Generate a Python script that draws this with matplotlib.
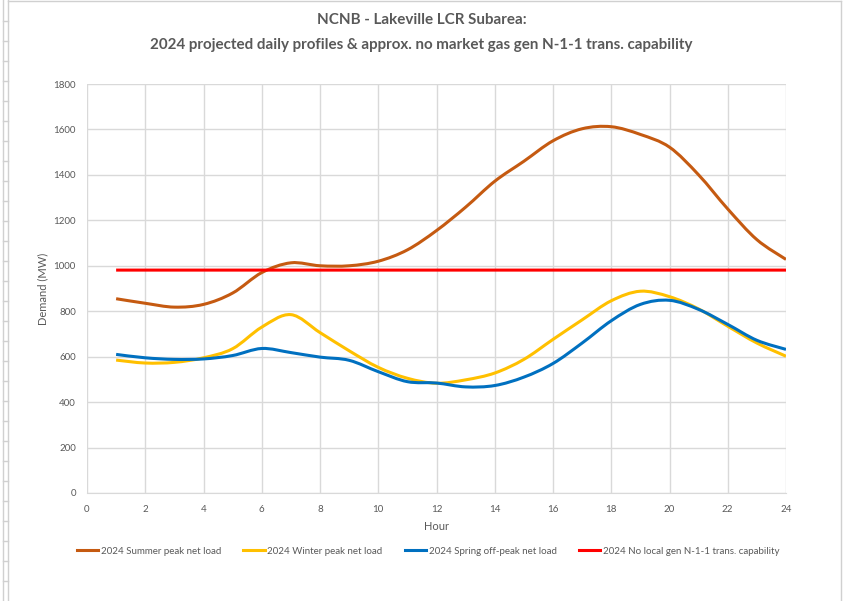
#!/usr/bin/env python3
"""NCNB - Lakeville LCR subarea daily profiles, redrawn from the Excel chart."""

import numpy as np
import matplotlib
matplotlib.use("Agg")
import matplotlib.pyplot as plt
from matplotlib.path import Path
from matplotlib.patches import PathPatch
from matplotlib.lines import Line2D

plt.rcParams["font.family"] = ["Lato", "DejaVu Sans"]

# hourly values (MW)
hours = list(range(1, 25))
summer_peak = [855, 835, 818, 830, 880, 970, 1013, 1000, 1000, 1020, 1070, 1155,
               1258, 1372, 1460, 1550, 1603, 1612, 1578, 1522, 1400, 1250, 1115, 1028]
winter_peak = [585, 572, 575, 595, 635, 730, 785, 706, 626, 553, 505, 483,
               498, 528, 588, 676, 762, 846, 888, 864, 810, 734, 660, 602]
spring_offpeak = [610, 595, 588, 590, 605, 636, 618, 598, 584, 534, 490, 484,
                  467, 473, 510, 570, 660, 758, 830, 848, 808, 742, 672, 632]
trans_capability = [981] * 24

series_labels = [
    "2024 Summer peak net load",
    "2024 Winter peak net load",
    "2024 Spring off-peak net load",
    "2024 No local gen N-1-1 trans. capability",
]
series_colors = ["#C55A11", "#FFC000", "#0070C0", "#FF0000"]

TEXT_GRAY = "#595959"
GRID_GRAY = "#D9D9D9"


def smooth_path(x, y):
    """Excel-style smoothed line: cubic Bezier through every point."""
    pts = np.column_stack([x, y]).astype(float)
    n = len(pts)
    verts = [pts[0]]
    codes = [Path.MOVETO]
    for i in range(n - 1):
        p0 = pts[i - 1] if i > 0 else pts[i]
        p1 = pts[i]
        p2 = pts[i + 1]
        p3 = pts[i + 2] if i + 2 < n else pts[i + 1]
        c1 = p1 + (p2 - p0) / 6.0
        c2 = p2 - (p3 - p1) / 6.0
        verts += [c1, c2, p2]
        codes += [Path.CURVE4] * 3
    return Path(verts, codes)


fig = plt.figure(figsize=(8.43, 6.01), dpi=100)
ax = fig.add_axes([87 / 843, 1 - 493 / 601, (786 - 87) / 843, (493 - 84) / 601])

for values, color in zip([summer_peak, winter_peak, spring_offpeak, trans_capability],
                         series_colors):
    patch = PathPatch(smooth_path(hours, values), facecolor="none",
                      edgecolor=color, lw=2.2, capstyle="butt", zorder=3)
    ax.add_patch(patch)

ax.set_xlim(0, 24)
ax.set_ylim(0, 1800)
ax.set_xticks(range(0, 25, 2))
ax.set_yticks(range(0, 1801, 200))
ax.grid(True, color=GRID_GRAY, lw=1)
ax.set_axisbelow(True)
for side in ["top", "right", "left"]:
    ax.spines[side].set_visible(False)
ax.spines["bottom"].set_color(GRID_GRAY)
ax.tick_params(length=0, labelsize=7, colors=TEXT_GRAY, pad=9)
ax.tick_params(axis="y", pad=8)

ax.set_xlabel("Hour", fontsize=8, color=TEXT_GRAY, labelpad=5)
ax.set_ylabel("Demand (MW)", fontsize=8, color=TEXT_GRAY, labelpad=4)

fig.text(0.5, 1 - 20 / 601,
         "NCNB - Lakeville LCR Subarea:", ha="center", va="center",
         fontsize=10.9, fontweight="bold", color=TEXT_GRAY)
fig.text(0.5, 1 - 45 / 601,
         "2024 projected daily profiles & approx. no market gas gen N-1-1 trans. capability",
         ha="center", va="center", fontsize=10.9, fontweight="bold", color=TEXT_GRAY)

handles = [Line2D([], [], color=c, lw=2.2) for c in series_colors]
leg = fig.legend(handles, series_labels, loc="center", ncol=4,
                 bbox_to_anchor=(428 / 843, 1 - 551 / 601), frameon=False,
                 fontsize=7.0, handlelength=2.2, handletextpad=0.25, columnspacing=2.3)
for txt in leg.get_texts():
    txt.set_color(TEXT_GRAY)

# spreadsheet frame around the embedded chart
frame = dict(color="#D0D0D0", lw=1, transform=fig.transFigure)
fig.add_artist(Line2D([8 / 843, 841 / 843], [1 - 1 / 601, 1 - 1 / 601], **frame))
fig.add_artist(Line2D([8 / 843, 8 / 843], [0, 1], **frame))
fig.add_artist(Line2D([3 / 843, 3 / 843], [0, 1], **frame))
fig.add_artist(Line2D([841 / 843, 841 / 843], [0, 1 - 1 / 601], **frame))
for yp in range(21, 601, 20):
    fig.add_artist(Line2D([3 / 843, 8 / 843], [1 - yp / 601] * 2, **frame))

fig.savefig("out.png", dpi=100)
